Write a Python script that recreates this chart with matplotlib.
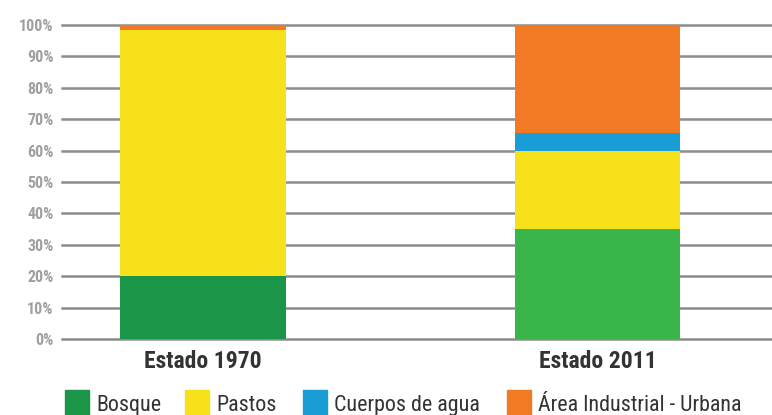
import numpy as np
import matplotlib.pyplot as plt
from matplotlib.patches import Rectangle

# Data (percent of area)
categories = ['Estado 1970', 'Estado 2011']
series = ['Bosque', 'Pastos', 'Cuerpos de agua', 'Área Industrial - Urbana']
bosque = [20.0, 35.0]
pastos = [78.5, 25.0]
agua = [0.0, 5.6]
industrial = [1.5, 34.4]
yticks = [0, 10, 20, 30, 40, 50, 60, 70, 80, 90, 100]

# Colours (the 2011 forest block is a lighter green in the original)
bosque_colors = ['#1b9547', '#3ab54a']
pastos_color = '#f6e11a'
agua_color = '#1a9cd5'
industrial_color = '#f27a24'

plt.rcParams['font.family'] = ['Liberation Sans Narrow', 'Roboto Condensed', 'DejaVu Sans']
plt.rcParams['font.stretch'] = 'condensed'

W, H = 772, 415
fig = plt.figure(figsize=(W / 100, H / 100), dpi=100)
ax = fig.add_axes([62 / W, 76 / H, 1 - 62 / W, 314 / H])

x = np.arange(len(categories))
w = 0.42
bottom = np.zeros(len(categories))
ax.bar(x, bosque, w, bottom=bottom, color=bosque_colors, zorder=3)
bottom += bosque
ax.bar(x, pastos, w, bottom=bottom, color=pastos_color, zorder=3)
bottom += pastos
ax.bar(x, agua, w, bottom=bottom, color=agua_color, zorder=3)
bottom += agua
ax.bar(x, industrial, w, bottom=bottom, color=industrial_color, zorder=3)

ax.set_xlim(-0.357, 1.442)
ax.set_ylim(0, 100)
ax.set_yticks(yticks)
ax.set_yticklabels([f'{v}%' for v in yticks], color='#a0a0a0',
                   fontsize=11.5, fontweight='bold')
ax.set_xticks(x)
ax.set_xticklabels(categories, fontsize=17, fontweight='bold', color='#333333')
ax.tick_params(axis='both', length=0)
ax.tick_params(axis='y', pad=6)
ax.tick_params(axis='x', pad=8)
ax.yaxis.grid(True, color='#8c8c8c', linewidth=1.8, zorder=0, clip_on=False)
ax.set_axisbelow(True)
for s in ax.spines.values():
    s.set_visible(False)

# legend drawn by hand to follow the original spacing
legend_colors = [bosque_colors[0], pastos_color, agua_color, industrial_color]
patch_x = [65, 185, 303, 507]
for px, col, lab in zip(patch_x, legend_colors, series):
    fig.patches.append(Rectangle((px / W, 0), 24 / W, 25 / H, color=col,
                                 transform=fig.transFigure, figure=fig))
    fig.text((px + 31) / W, 4 / H, lab, fontsize=15.8, color='#333333',
             ha='left', va='baseline')

fig.savefig('out.png', dpi=100)
